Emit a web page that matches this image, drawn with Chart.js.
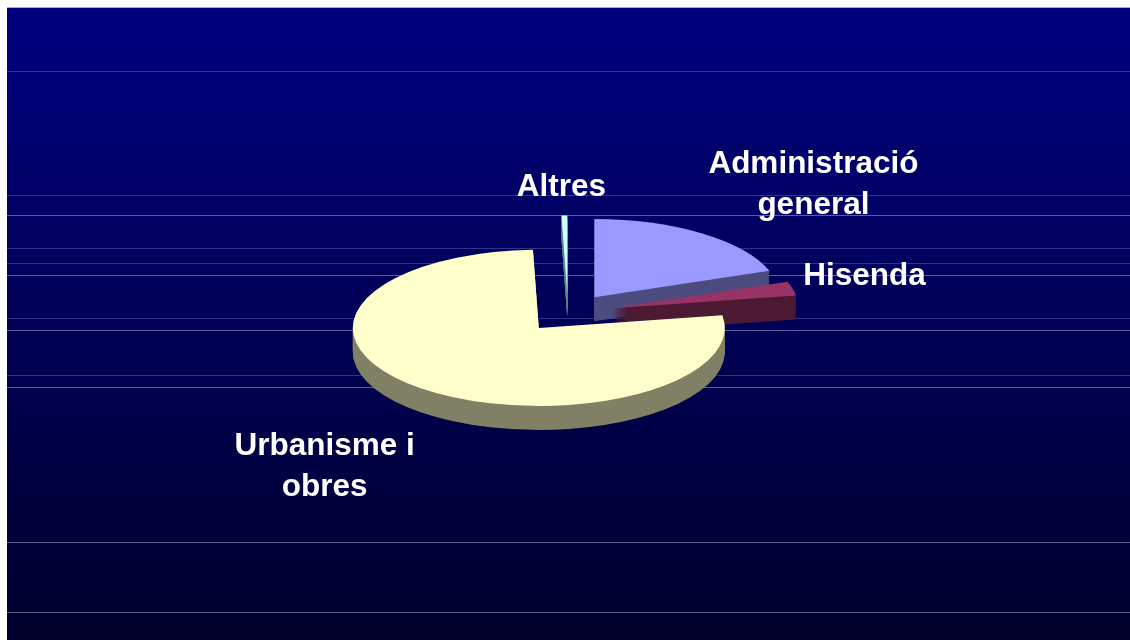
<!DOCTYPE html>
<html>
<head>
<meta charset="utf-8">
<script src="https://cdn.jsdelivr.net/npm/chart.js@4.4.1/dist/chart.umd.min.js"></script>
<style>
html, body { margin: 0; padding: 0; background: #fff; }
</style>
</head>
<body>
<canvas id="pie" width="1130" height="640"></canvas>
<script>
// shares of the budget, in the order the slices run clockwise from 12 o'clock
const categories = ['Administració general', 'Hisenda', 'Urbanisme i obres', 'Altres'];
const shares = [19.5, 2.9, 77.1, 0.5];
const labelLines = [['Administració', 'general'], ['Hisenda'], ['Urbanisme i', 'obres'], ['Altres']];

const topColors = ['#9999ff', '#993366', '#ffffcc', '#ccffff'];
const sideColors = ['#4c4c80', '#4d1a33', '#808066', '#5e8080'];
const drawOrder = [3, 0, 1, 2];   // back slices first, the big front one last

// fake 3d look
const tilt = 0.42;
const depth = 24;
const explode = 46;

// label nudges from the slice's outer edge (dx, dy to first baseline)
const labelNudge = [[112, -60], [72, -3], [-96, 67], [-3, -20]];

// decoration of the slide background
const stripeRows = [71, 195, 215, 248, 263, 275, 318, 330, 375, 387, 542, 612];
const dimStripes = [71, 195, 248, 263, 318, 375];

const backdrop = {
    id: 'backdrop',
    beforeDraw(chart) {
        const ctx = chart.ctx;
        const w = chart.width, h = chart.height;
        ctx.save();
        ctx.fillStyle = '#ffffff';
        ctx.fillRect(0, 0, w, h);
        const g = ctx.createLinearGradient(0, 7, 0, h);
        g.addColorStop(0, 'rgb(0, 0, 128)');
        g.addColorStop(1, 'rgb(0, 0, 44)');
        ctx.fillStyle = g;
        ctx.fillRect(7, 7, w - 7, h - 7);
        ctx.fillStyle = 'rgba(190, 190, 220, 0.9)';
        ctx.fillRect(7, 7, w - 7, 1);
        stripeRows.forEach(y => {
            ctx.fillStyle = dimStripes.includes(y) ? 'rgba(110, 110, 190, 0.45)' : 'rgba(150, 150, 210, 0.6)';
            ctx.fillRect(7, y, w - 7, 1);
        });
        ctx.restore();
    }
};

const pie3d = {
    id: 'pie3d',
    beforeDatasetsDraw(chart) {
        const ctx = chart.ctx;
        const arcs = chart.getDatasetMeta(0).data;
        const cx = arcs[0].x, cy = arcs[0].y;
        drawOrder.forEach(i => {
            const arc = arcs[i];
            const mid = (arc.startAngle + arc.endAngle) / 2;
            const ox = Math.cos(mid) * explode, oy = Math.sin(mid) * explode;
            const saved = arc.options;
            for (let z = depth; z >= 0; z--) {
                ctx.save();
                ctx.translate(0, z);
                ctx.translate(cx, cy);
                ctx.scale(1, tilt);
                ctx.translate(-cx + ox, -cy + oy);
                arc.options = Object.assign({}, saved, {backgroundColor: z > 0 ? sideColors[i] : topColors[i]});
                arc.draw(ctx);
                ctx.restore();
            }
            arc.options = saved;
        });
        return false;
    },
    afterDraw(chart) {
        const ctx = chart.ctx;
        const arcs = chart.getDatasetMeta(0).data;
        ctx.save();
        ctx.fillStyle = '#ffffff';
        ctx.font = 'bold 31.5px "Liberation Sans", Arial, sans-serif';
        ctx.textAlign = 'center';
        ctx.textBaseline = 'alphabetic';
        arcs.forEach((arc, i) => {
            const mid = (arc.startAngle + arc.endAngle) / 2;
            const r = arc.outerRadius + explode;
            const ax = arc.x + Math.cos(mid) * r;
            const ay = arc.y + Math.sin(mid) * r * tilt;
            labelLines[i].forEach((line, k) => {
                ctx.fillText(line, ax + labelNudge[i][0], ay + labelNudge[i][1] + k * 41);
            });
        });
        ctx.restore();
    }
};

new Chart(document.getElementById('pie').getContext('2d'), {
    type: 'pie',
    data: {
        labels: categories,
        datasets: [
            {data: shares, backgroundColor: topColors, borderWidth: 0, radius: 186},
        ]
    },
    options: {
        responsive: false,
        animation: false,
        events: [],
        layout: {padding: {left: 6, right: 0, top: 0, bottom: 14}},
        plugins: {
            legend: {display: false},
            tooltip: {enabled: false},
        }
    },
    plugins: [backdrop, pie3d]
});
</script>
</body>
</html>
